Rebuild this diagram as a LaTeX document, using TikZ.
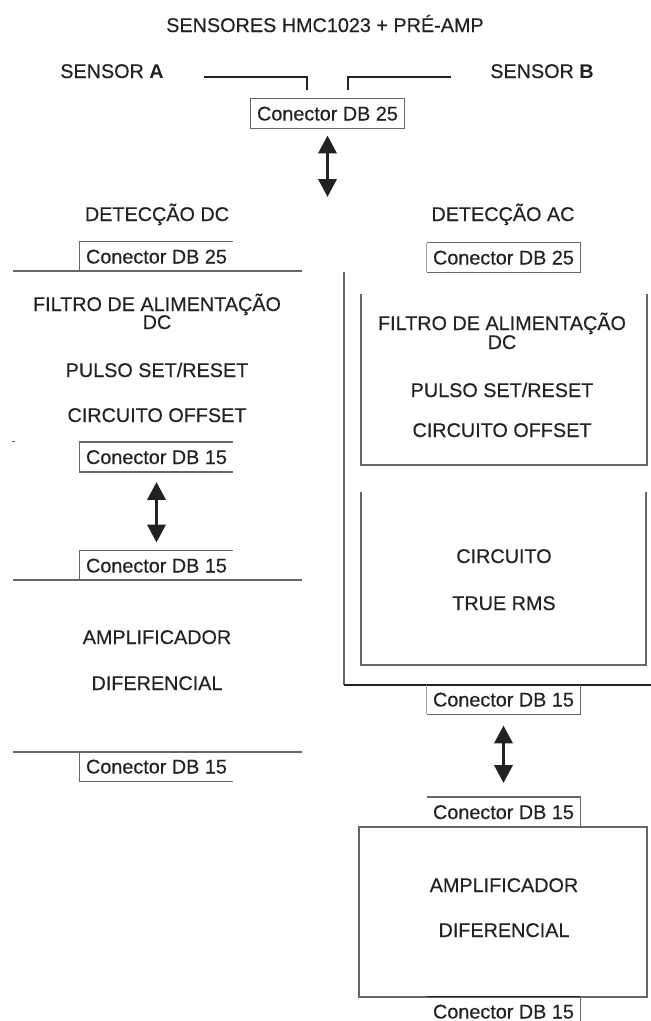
\documentclass[tikz,border=0pt]{standalone}
\usepackage{fontspec}
\setmainfont{Liberation Sans}[FakeBold=0.35]
\newfontfamily\boldface{Liberation Sans Bold}
\usetikzlibrary{arrows.meta}
\definecolor{ink}{HTML}{222222}
\definecolor{edge}{HTML}{666666}
\begin{document}
\begin{tikzpicture}[x=1pt,y=-1pt,
  lbl/.style={inner sep=0pt, text=ink, font=\fontsize{19.8}{22}\selectfont, text height=14pt, text depth=0pt},
  conn/.style={lbl, minimum width=153pt, minimum height=29.5pt},
  edgeline/.style={draw=edge, line width=1.2pt},
  faint/.style={draw=edge!60, line width=0.8pt},
  sensorline/.style={draw=ink, line width=2.6pt},
  dblarrow/.style={draw=ink, line width=3.6pt, {Triangle[width=18pt,length=18pt]}-{Triangle[width=18pt,length=18pt]}}]
\useasboundingbox (0,0) rectangle (651,1021);
\fill[white] (0,0) rectangle (651,1021);

% top
\node[lbl] (title) at (325,25) {SENSORES HMC1023 + PRÉ-AMP};
\node[lbl] (sa) at (112,71) {SENSOR {\boldface A}};
\node[lbl] (sb) at (542,71) {SENSOR {\boldface B}};
\draw[sensorline] (204,77) -- (307,77) -- (307,90);
\draw[sensorline] (451,77) -- (348,77) -- (348,90);
\node[conn] (ctop) at (327.5,113.5) {Conector DB 25};
\draw[edgeline] (ctop.south west) rectangle (ctop.north east);
\coordinate (topend) at (327.5,197);
\draw[dblarrow, shorten <=7pt] (ctop.south) -- (topend);

% left column
\node[lbl] (ldet) at (157,214) {DETECÇÃO DC};
\node[conn] (l0) at (156.5,256.5) {Conector DB 25};
\draw[edgeline] (l0.north east) -- (l0.north west) -- (l0.south west);
\draw[edgeline] (13,271) -- (302,271);
\node[lbl] (lf1) at (157,304) {FILTRO DE ALIMENTAÇÃO};
\node[lbl] (lf2) at (157,322) {DC};
\node[lbl] (lp) at (157,370) {PULSO SET/RESET};
\node[lbl] (lo) at (157,415) {CIRCUITO OFFSET};
\fill[edge] (12,440.5) rectangle (15,442);
\node[conn] (l1) at (156.5,457) {Conector DB 15};
\draw[edgeline] (l1.north east) -- (l1.north west) -- (l1.south west) -- (l1.south east);
\node[conn] (l2) at (156.5,565.5) {Conector DB 15};
\draw[edgeline] (l2.north east) -- (l2.north west) -- (l2.south west);
\draw[dblarrow, shorten <=10pt, shorten >=8pt] (l1.south) -- (l2.north);
\draw[edgeline] (13,580) -- (302,580);
\node[lbl] (la1) at (157,637) {AMPLIFICADOR};
\node[lbl] (la2) at (157,683) {DIFERENCIAL};
\draw[edgeline] (13,752) -- (302,752);
\node[conn] (l3) at (156.5,766.5) {Conector DB 15};
\draw[edgeline] (l3.north west) -- (l3.south west) -- (l3.south east);

% right column
\node[lbl] (rdet) at (503,214) {DETECÇÃO AC};
\node[conn] (r0) at (503.5,257.5) {Conector DB 25};
\draw[edgeline] (r0.north west) -- (r0.north east) -- (r0.south east) -- (r0.south west);
\draw[faint] (r0.north west) -- (r0.south west);
\draw[edgeline] (344,272) -- (344,685);
\draw[ink, line width=1.8pt] (344,685) -- (651,685);
\draw[edgeline] (361,294) -- (361,465) -- (647,465) -- (647,294);
\node[lbl] (rf1) at (502,323) {FILTRO DE ALIMENTAÇÃO};
\node[lbl] (rf2) at (502,342) {DC};
\node[lbl] (rp) at (502,390) {PULSO SET/RESET};
\node[lbl] (ro) at (502,430) {CIRCUITO OFFSET};
\draw[edgeline] (361,492) -- (361,665) -- (646,665) -- (646,492);
\node[lbl] (rc1) at (504,556) {CIRCUITO};
\node[lbl] (rc2) at (504,603) {TRUE RMS};
\node[conn] (r1) at (503.5,699.5) {Conector DB 15};
\draw[edgeline] (r1.north east) -- (r1.south east) -- (r1.south west);
\draw[faint] (r1.north west) -- (r1.south west);
\node[conn] (r2) at (503.5,812) {Conector DB 15};
\draw[edgeline] (r2.north west) -- (r2.north east) -- (r2.south east);
\draw[dblarrow, shorten <=11pt, shorten >=14pt] (r1.south) -- (r2.north);
\draw[edgeline] (359,827) rectangle (647,997);
\node[lbl] (ra1) at (504,885) {AMPLIFICADOR};
\node[lbl] (ra2) at (504,930) {DIFERENCIAL};
\node[conn] (r3) at (503.5,1011.5) {Conector DB 15};
\draw[ink, line width=1.6pt] (r3.north west) -- (r3.north east);
\draw[edgeline] (r3.north east) -- (r3.south east);
\end{tikzpicture}
\end{document}
